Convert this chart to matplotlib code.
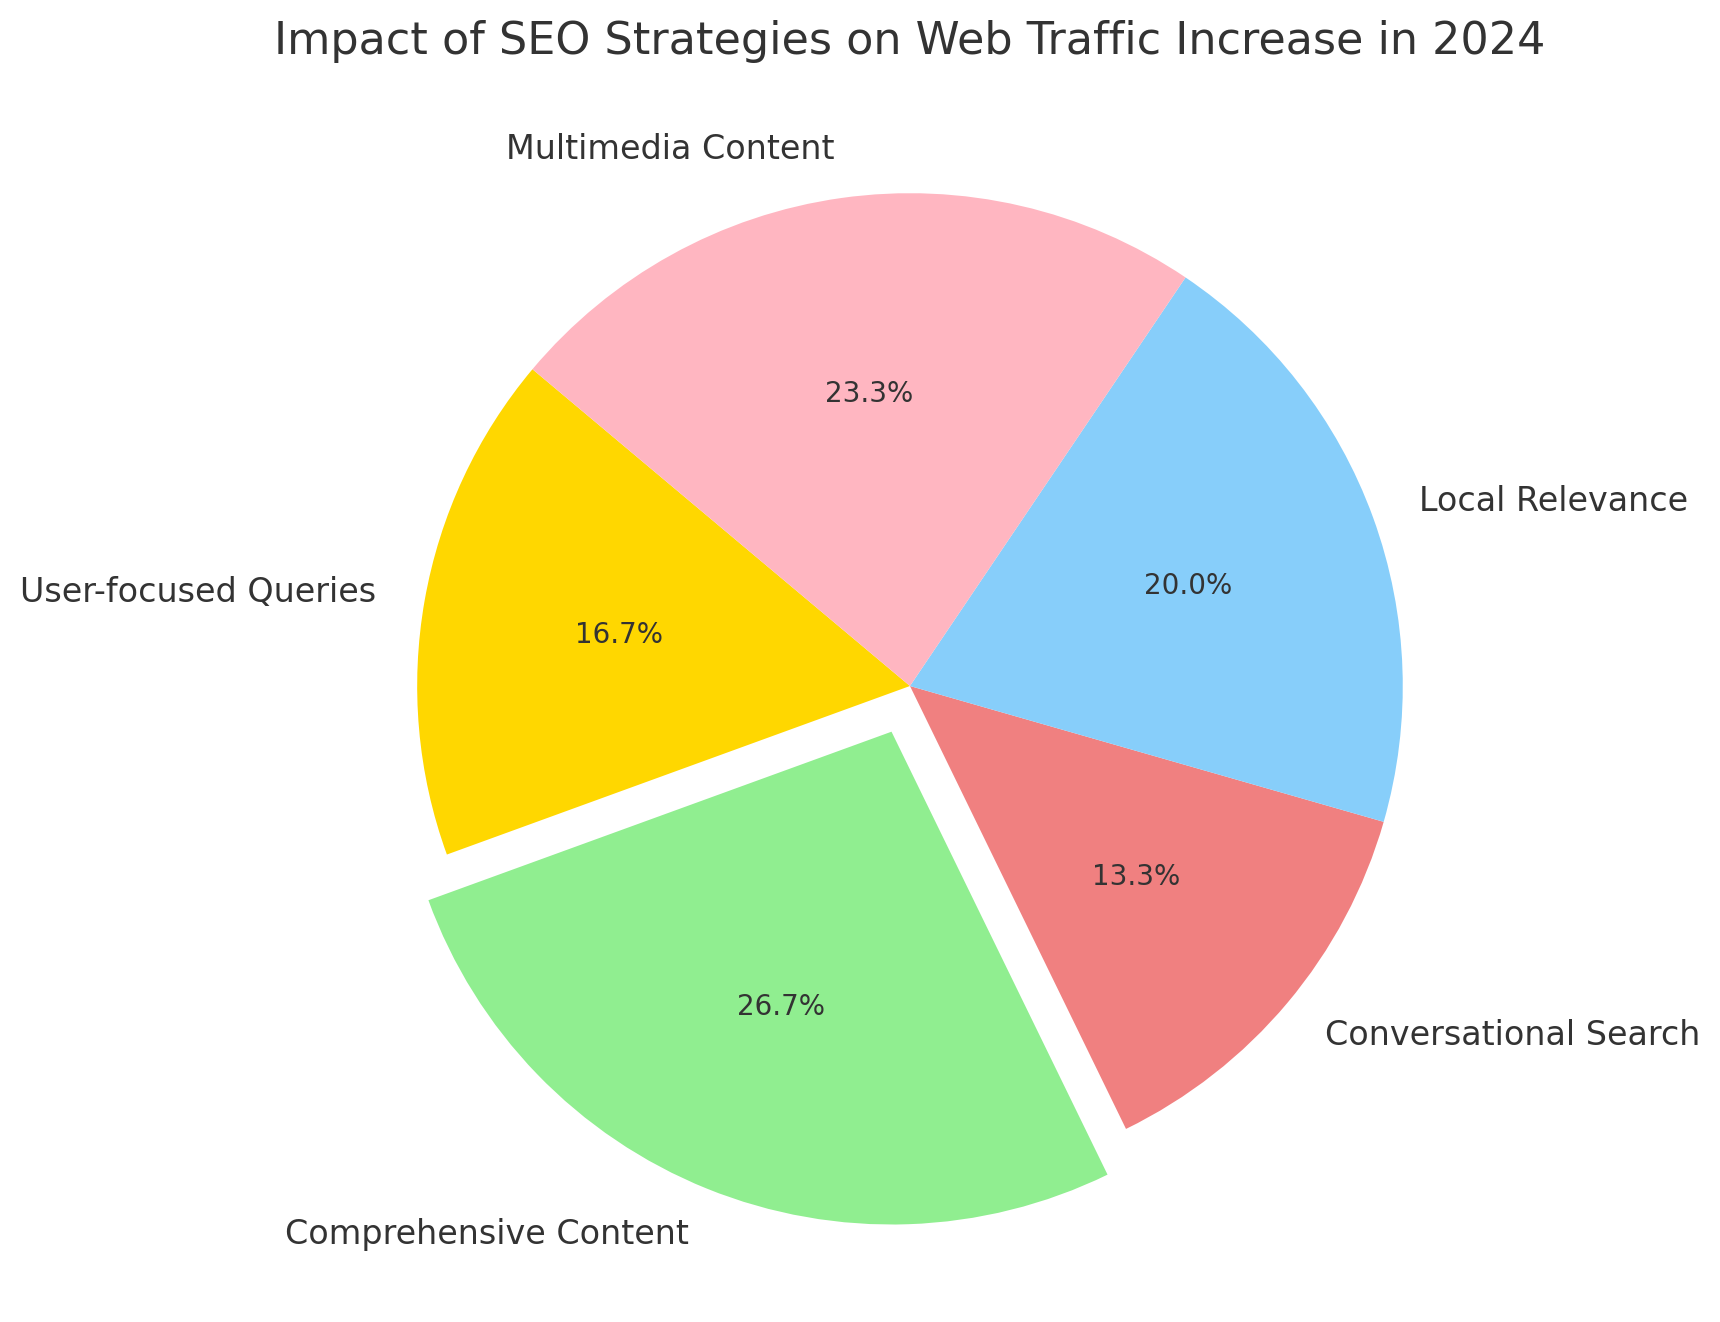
import matplotlib
matplotlib.use("Agg")
import matplotlib.pyplot as plt

strategies = ["User-focused Queries", "Comprehensive Content", "Conversational Search",
              "Local Relevance", "Multimedia Content"]
impact = [5, 8, 4, 6, 7]
colors = ["#FFD700", "#90EE90", "#F08080", "#87CEFA", "#FFB6C1"]
explode = [0, 0.1, 0, 0, 0]

fig, ax = plt.subplots(figsize=(10, 8))
wedges, texts, autotexts = ax.pie(
    impact, labels=strategies, colors=colors, explode=explode,
    autopct="%1.1f%%", startangle=140,
    textprops={"fontsize": 12, "color": "#333333"},
)
for t in autotexts:
    t.set_fontsize(10)
    t.set_color("#333333")
ax.set_title("Impact of SEO Strategies on Web Traffic Increase in 2024",
             fontsize=16, color="#333333")
fig.savefig("out.png", dpi=200, bbox_inches="tight")
